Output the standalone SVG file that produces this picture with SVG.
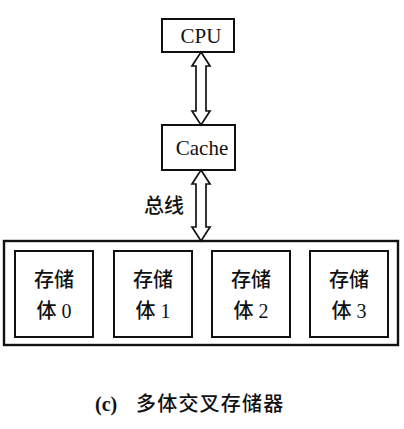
<svg xmlns="http://www.w3.org/2000/svg" width="404" height="429" viewBox="0 0 404 429">
<style>
.box{fill:#fff;stroke:#111;stroke-width:2}
.outer{fill:#fff;stroke:#111;stroke-width:2.4}
.arrow{fill:#fff;stroke:#111;stroke-width:1.7;stroke-linejoin:miter}
.lat{font-family:"Liberation Serif","Times New Roman",serif;font-size:21px;fill:#111;text-anchor:middle}
.cjk{font-family:"Liberation Serif","Noto Sans CJK SC",sans-serif;font-size:20px;font-weight:500;fill:#111;text-anchor:middle}
</style>
<rect width="404" height="429" fill="#fff"/>
<g id="memory">
<rect class="outer" x="4" y="241" width="394" height="104"/>
</g>
<g id="cpu">
<rect class="box" x="162" y="19" width="72" height="33"/>
<text class="lat" x="201" y="43">CPU</text>
</g>
<g id="cache">
<rect class="box" x="162" y="125" width="73" height="45"/>
<text class="lat" x="202" y="155">Cache</text>
</g>
<g id="bank0">
<rect class="box" x="15" y="251" width="78" height="86"/>
<text class="cjk" x="54" y="287">存储</text>
<text class="cjk" x="54" y="318">体 0</text>
</g>
<g id="bank1">
<rect class="box" x="114" y="251" width="78" height="86"/>
<text class="cjk" x="153" y="287">存储</text>
<text class="cjk" x="153" y="318">体 1</text>
</g>
<g id="bank2">
<rect class="box" x="212" y="251" width="78" height="86"/>
<text class="cjk" x="251" y="287">存储</text>
<text class="cjk" x="251" y="318">体 2</text>
</g>
<g id="bank3">
<rect class="box" x="310" y="251" width="78" height="86"/>
<text class="cjk" x="349" y="287">存储</text>
<text class="cjk" x="349" y="318">体 3</text>
</g>
<g id="connectors">
<path class="arrow" d="M201,52 L210,66 L206,66 L206,111 L210,111 L201,125 L192,111 L196,111 L196,66 L192,66 Z"/>
<path class="arrow" d="M201,170 L210,184 L206,184 L206,227 L210,227 L201,241 L192,227 L196,227 L196,184 L192,184 Z"/>
<text class="cjk" x="184" y="213" style="text-anchor:end">总线</text>
</g>
<g id="caption">
<text x="95" y="411" style="font-family:'Liberation Serif',serif;font-size:20px;font-weight:bold;fill:#111">(c)</text>
<text x="136" y="411" style="font-family:'Noto Sans CJK SC',sans-serif;font-size:20px;font-weight:500;letter-spacing:1.2px;fill:#111">多体交叉存储器</text>
</g>
</svg>
